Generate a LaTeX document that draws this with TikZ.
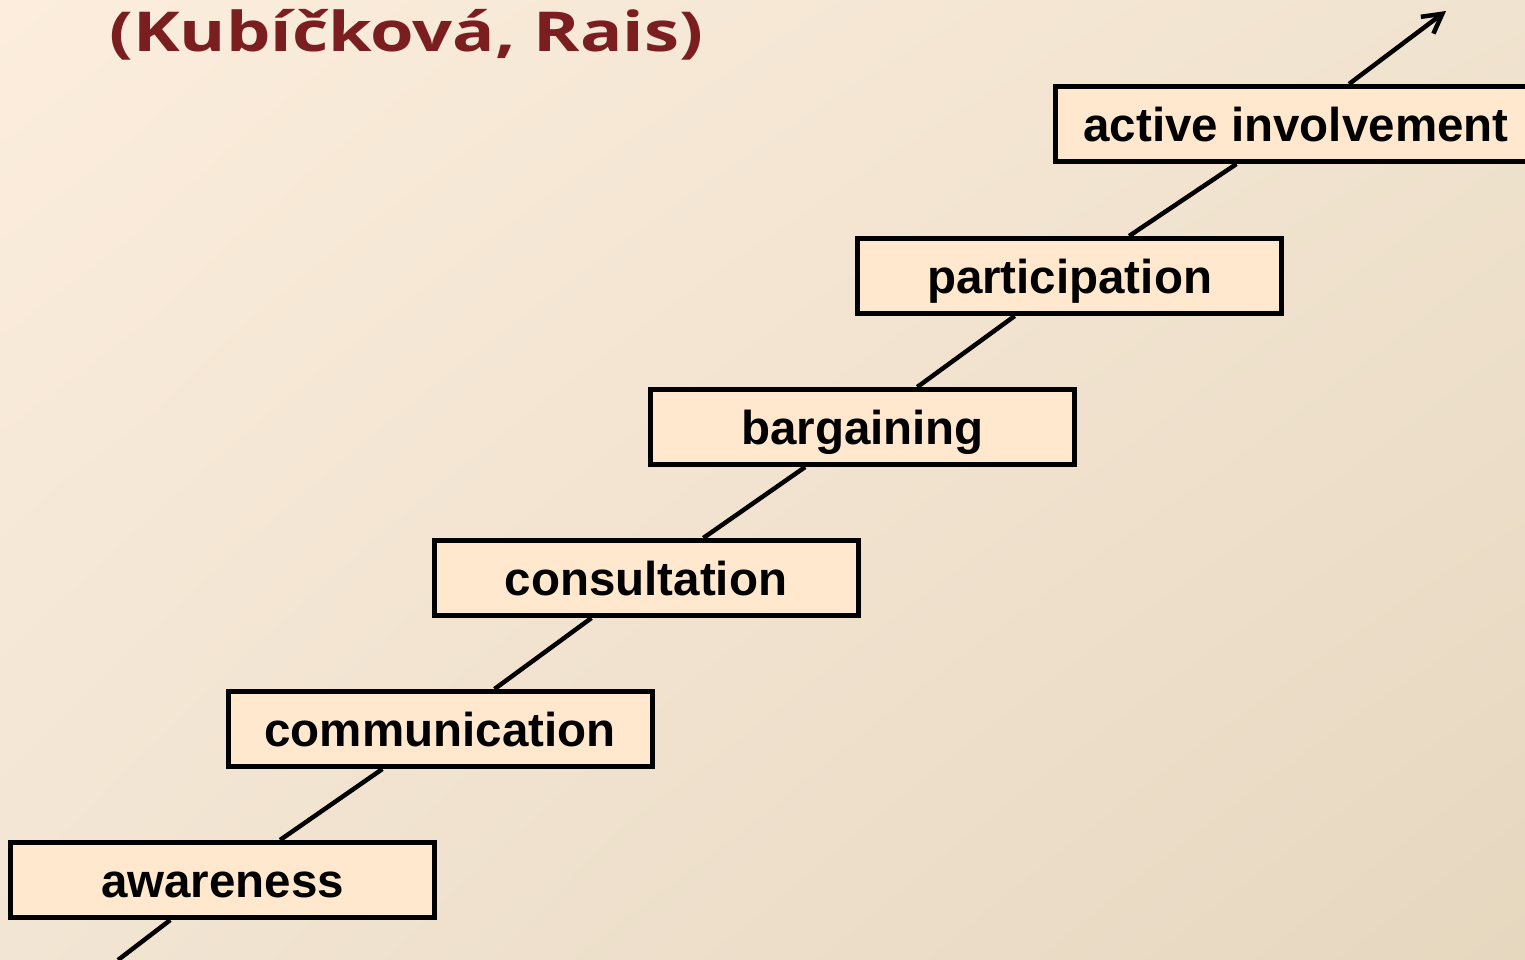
\documentclass[tikz,border=0pt]{standalone}
\usepackage{fontspec}
\setmainfont{Liberation Sans}
\newfontfamily\titlefont{Open Sans}
\usetikzlibrary{arrows.meta,shadings}
\definecolor{bgTL}{RGB}{252,237,220}
\definecolor{bgTR}{RGB}{240,227,207}
\definecolor{bgBL}{RGB}{242,229,211}
\definecolor{bgBR}{RGB}{230,215,191}
\definecolor{boxfill}{RGB}{255,232,205}
\definecolor{titlered}{RGB}{122,30,32}
\tikzset{
  stepbox/.style={draw=black, line width=5pt, fill=boxfill, minimum width=424pt, minimum height=75pt,
    inner sep=0pt, text height=35pt, text depth=0pt,
    font=\fontsize{47.5}{55}\selectfont\bfseries, text=black},
  stairline/.style={draw=black, line width=4.5pt},
}
\begin{document}
\begin{tikzpicture}[x=1pt,y=-1pt]
\useasboundingbox (0,0) rectangle (1525,960);
\clip (0,0) rectangle (1525,960);
\shade[upper left=bgTL, upper right=bgTR, lower left=bgBL, lower right=bgBR] (0,0) rectangle (1525,960);
\node[anchor=base west, inner sep=0pt, text=titlered, font=\titlefont\fontsize{55}{60}\selectfont\bfseries]
  (title) at (109,52) {\resizebox{594pt}{\height}{(Kubíčková, Rais)}};
\coordinate (start) at (118,960);
\coordinate (tip) at (1446,11);
\node[stepbox] (aw) at (222.5,880) {awareness};
\node[stepbox] (cm) at (440,729) {communication};
\node[stepbox] (cs) at (646,578) {consultation};
\node[stepbox] (bg) at (862.5,427) {bargaining};
\node[stepbox] (pa) at (1069.5,276) {participation};
\node[stepbox, minimum width=482pt] (ac) at (1296,124) {active involvement};
\draw[stairline] (start) -- (aw);
\draw[stairline] (aw) -- (cm);
\draw[stairline] (cm) -- (cs);
\draw[stairline] (cs) -- (bg);
\draw[stairline] (bg) -- (pa);
\draw[stairline] (pa) -- (ac);
\draw[stairline, -{Straight Barb[length=19pt,width=21pt]}] (ac) -- (tip);
\end{tikzpicture}
\end{document}
